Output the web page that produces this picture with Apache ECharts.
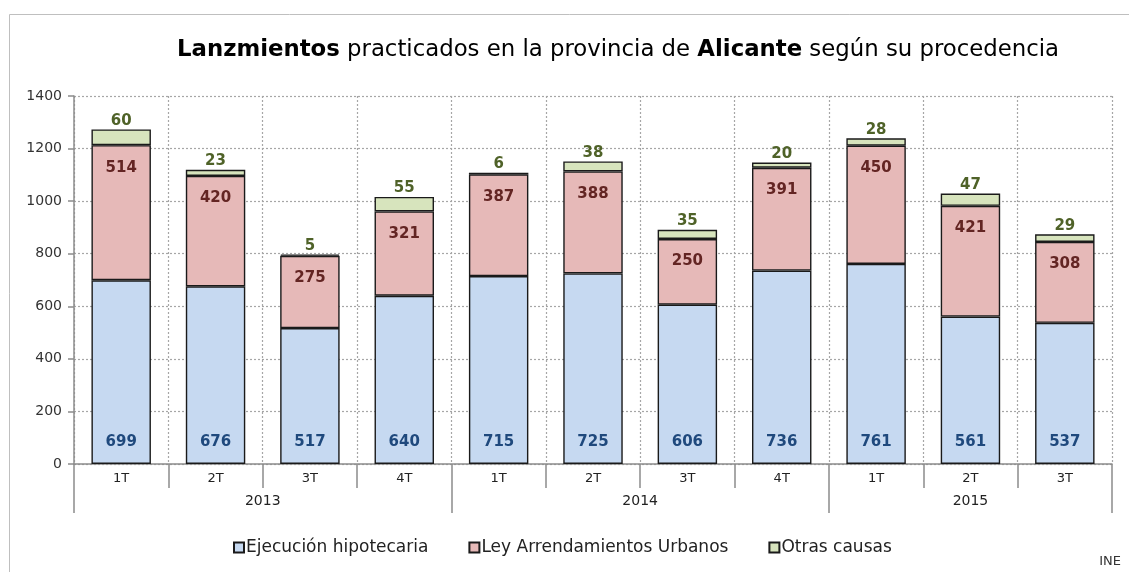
<!DOCTYPE html>
<html>
<head>
<meta charset="utf-8">
<script src="https://cdn.jsdelivr.net/npm/echarts@6/dist/echarts.min.js"></script>
<style>
html,body{margin:0;padding:0;background:#fff;}
#chart{width:1129px;height:572px;}
</style>
</head>
<body>
<div id="chart"></div>
<script>
const quarters = ['1T','2T','3T','4T','1T','2T','3T','4T','1T','2T','3T'];
const years = ['2013','2014','2015'];
const yearStarts = [0, 4, 8];
const ejecucion = [699, 676, 517, 640, 715, 725, 606, 736, 761, 561, 537];
const arrendamientos = [514, 420, 275, 321, 387, 388, 250, 391, 450, 421, 308];
const otras = [60, 23, 5, 55, 6, 38, 35, 20, 28, 47, 29];
const seriesNames = ['Ejecución hipotecaria', 'Ley Arrendamientos Urbanos', 'Otras causas'];
const yTicks = [0, 200, 400, 600, 800, 1000, 1200, 1400];

const FONT = 'DejaVu Sans';
const chart = echarts.init(document.getElementById('chart'), null, {renderer: 'canvas'});

const yearCentres = years.map((y, i) => {
  const s = yearStarts[i];
  const e = i + 1 < yearStarts.length ? yearStarts[i + 1] : quarters.length;
  return (s + e) / 2;
});

const barBorder = {borderColor: '#1a1a1a', borderWidth: 1.4};

chart.setOption({
  animation: false,
  textStyle: {fontFamily: FONT},
  graphic: [{
    type: 'rect', left: 7, top: 12, z: -1,
    shape: {width: 1200, height: 700},
    style: {fill: 'none', stroke: '#bfbfbf', lineWidth: 1}
  }, {
    type: 'text', right: 8, top: 555,
    style: {text: 'INE', font: '13px "DejaVu Sans"', fill: '#333'}
  }],
  title: {
    left: 172, top: 34,
    text: '{b|Lanzmientos} practicados en la provincia de {b|Alicante} según su procedencia',
    textStyle: {
      fontFamily: FONT, fontSize: 22.8, fontWeight: 'normal', color: '#000',
      rich: {b: {fontFamily: FONT, fontSize: 22.8, fontWeight: 'bold', color: '#000'}}
    }
  },
  legend: {
    bottom: 11, left: 228,
    itemWidth: 10, itemHeight: 10, itemGap: 40,
    icon: 'rect',
    textStyle: {fontFamily: FONT, fontSize: 17, color: '#222', padding: [0, 0, 0, -3]},
    data: seriesNames
  },
  grid: {left: 74, right: 17, top: 96, bottom: 108, containLabel: false},
  yAxis: {
    type: 'value', min: 0, max: 1400, interval: 200,
    axisLine: {show: true, lineStyle: {color: '#8c8c8c', width: 1.5}},
    axisTick: {show: true, length: 6, lineStyle: {color: '#8c8c8c', width: 1.5}},
    axisLabel: {fontFamily: FONT, fontSize: 14, color: '#333', margin: 12,
      formatter: v => yTicks.includes(v) ? String(v) : ''},
    splitLine: {show: true, lineStyle: {color: '#a6a6a6', type: [2, 2], width: 1.2}}
  },
  xAxis: [{
    type: 'category', data: quarters, position: 'bottom',
    axisLine: {show: true, lineStyle: {color: '#8c8c8c', width: 1.5}},
    axisTick: {show: true, length: 24, interval: 0, lineStyle: {color: '#8c8c8c', width: 1.5}},
    axisLabel: {fontFamily: FONT, fontSize: 13, color: '#222', margin: 8, interval: 0},
    splitLine: {show: true, interval: 0, lineStyle: {color: '#a6a6a6', type: [2, 2], width: 1.2}}
  }, {
    type: 'category', data: quarters, position: 'bottom', offset: 0,
    axisLine: {show: false},
    axisTick: {show: true, length: 49, interval: (i) => yearStarts.includes(i),
      lineStyle: {color: '#8c8c8c', width: 1.5}},
    axisLabel: {show: false},
    splitLine: {show: false}
  }, {
    type: 'value', min: 0, max: quarters.length, interval: 0.5, position: 'bottom', offset: 0,
    axisLine: {show: false}, axisTick: {show: false}, splitLine: {show: false},
    axisLabel: {
      fontFamily: FONT, fontSize: 14, color: '#222', margin: 30,
      showMinLabel: true, showMaxLabel: true,
      formatter: v => {
        const k = yearCentres.findIndex(c => Math.abs(c - v) < 1e-6);
        return k >= 0 ? years[k] : '';
      }
    }
  }],
  series: [{
    name: seriesNames[0], type: 'bar', stack: 'total', data: ejecucion,
    xAxisIndex: 0, barWidth: '63%',
    itemStyle: Object.assign({color: '#c6d9f1'}, barBorder),
    label: {show: true, position: 'insideBottom', distance: 14,
      fontFamily: FONT, fontSize: 15, fontWeight: 'bold', color: '#1f497d'}
  }, {
    name: seriesNames[1], type: 'bar', stack: 'total', data: arrendamientos,
    xAxisIndex: 0, barWidth: '63%',
    itemStyle: Object.assign({color: '#e6b9b8'}, barBorder),
    label: {show: true, position: 'insideTop', distance: 15,
      fontFamily: FONT, fontSize: 15, fontWeight: 'bold', color: '#632523'}
  }, {
    name: seriesNames[2], type: 'bar', stack: 'total', data: otras,
    xAxisIndex: 0, barWidth: '63%',
    itemStyle: Object.assign({color: '#d7e4bd'}, barBorder),
    label: {show: true, position: 'top', distance: 1,
      fontFamily: FONT, fontSize: 15, fontWeight: 'bold', color: '#4f6228'}
  }]
});
</script>
</body>
</html>
